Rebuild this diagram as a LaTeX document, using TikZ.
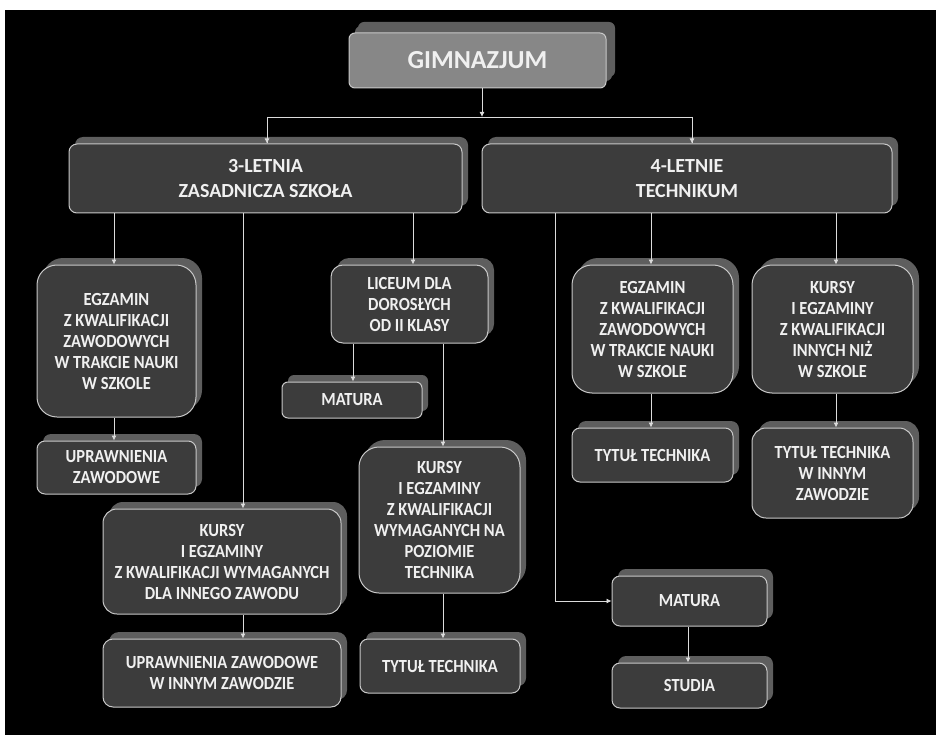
\documentclass[tikz,border=0pt]{standalone}
\usepackage{fontspec}
\setmainfont{Carlito}
\newfontfamily\boxfont[FakeStretch=0.89]{Carlito}
\usetikzlibrary{arrows.meta,shadows}
\definecolor{boxfill}{HTML}{3C3C3C}
\definecolor{topfill}{HTML}{878787}
\definecolor{shadowfill}{HTML}{5E5E5E}
\definecolor{edge}{HTML}{C8C8C8}
\definecolor{linec}{HTML}{DCDCDC}
\definecolor{txt}{HTML}{F0F0F0}
\tikzset{
  box/.style={draw=edge, line width=1pt, fill=boxfill, text=txt, align=center,
    inner sep=0pt, font={\boxfont\bfseries\fontsize{18.5}{21}\selectfont},
    general shadow={fill=shadowfill, shadow xshift=6pt, shadow yshift=7pt}},
  bigbox/.style={box, font={\bfseries\fontsize{20}{25}\selectfont}},
  arr/.style={draw=linec, line width=0.8pt, -{Latex[length=5pt,width=5pt]}},
  ln/.style={draw=linec, line width=0.8pt}
}
\begin{document}
\begin{tikzpicture}[x=1pt,y=-1pt]
\useasboundingbox (0,0) rectangle (936,735);
\fill[white] (0,0) rectangle (936,735);
\fill[black] (5,10) rectangle (936,735);

% top box
\node[box, fill=topfill, rounded corners=6pt, minimum width=257pt, minimum height=55pt,
  font={\bfseries\fontsize{26}{28}\selectfont},
  general shadow={fill=shadowfill, shadow xshift=9pt, shadow yshift=11pt}] (g) at (477.5,60.5) {GIMNAZJUM};

% level 2
\node[bigbox, rounded corners=8pt, minimum width=393pt, minimum height=69pt] (z3) at (265.5,178.5) {3-LETNIA\\ZASADNICZA SZKOŁA};
\node[bigbox, rounded corners=8pt, minimum width=410pt, minimum height=69pt] (t4) at (687,178.5) {4-LETNIE\\TECHNIKUM};

% left branch
\node[box, rounded corners=20pt, minimum width=159pt, minimum height=152pt] (e1) at (116.5,341) {EGZAMIN\\Z KWALIFIKACJI\\ZAWODOWYCH\\W TRAKCIE NAUKI\\W SZKOLE};
\node[box, rounded corners=8pt, minimum width=159pt, minimum height=53pt] (u1) at (116.5,467.5) {UPRAWNIENIA\\ZAWODOWE};
\node[box, rounded corners=12pt, minimum width=157pt, minimum height=78pt] (l1) at (409.5,304) {LICEUM DLA\\DOROSŁYCH\\OD II KLASY};
\node[box, rounded corners=6pt, minimum width=140pt, minimum height=36pt] (m1) at (352,400) {MATURA};
\node[box, rounded corners=14pt, minimum width=238pt, minimum height=105pt] (k1) at (222,561.5) {KURSY\\I EGZAMINY\\Z KWALIFIKACJI WYMAGANYCH\\DLA INNEGO ZAWODU};
\node[box, rounded corners=10pt, minimum width=238pt, minimum height=68pt] (u2) at (222,673) {UPRAWNIENIA ZAWODOWE\\W INNYM ZAWODZIE};
\node[box, rounded corners=20pt, minimum width=161pt, minimum height=146pt] (k2) at (439.5,520) {KURSY\\I EGZAMINY\\Z KWALIFIKACJI\\WYMAGANYCH NA\\POZIOMIE\\TECHNIKA};
\node[box, rounded corners=8pt, minimum width=160pt, minimum height=54pt] (t2) at (440,666) {TYTUŁ TECHNIKA};

% right branch
\node[box, rounded corners=20pt, minimum width=161pt, minimum height=128pt] (e2) at (652.5,329) {EGZAMIN\\Z KWALIFIKACJI\\ZAWODOWYCH\\W TRAKCIE NAUKI\\W SZKOLE};
\node[box, rounded corners=20pt, minimum width=161pt, minimum height=128pt] (k3) at (832.5,329) {KURSY\\I EGZAMINY\\Z KWALIFIKACJI\\INNYCH NIŻ\\W SZKOLE};
\node[box, rounded corners=8pt, minimum width=161pt, minimum height=54pt] (t3) at (652.5,455) {TYTUŁ TECHNIKA};
\node[box, rounded corners=14pt, minimum width=161pt, minimum height=90pt] (t5) at (832.5,473) {TYTUŁ TECHNIKA\\W INNYM\\ZAWODZIE};
\node[box, rounded corners=8pt, minimum width=155pt, minimum height=50pt] (m2) at (689.5,601) {MATURA};
\node[box, rounded corners=8pt, minimum width=155pt, minimum height=45pt] (s1) at (689.5,685.5) {STUDIA};

% connectors
\coordinate (j) at (482,117);
\draw[ln] (j) -| ([xshift=1.5pt]z3.north);
\draw[ln] (j) -| ([xshift=5pt]t4.north);
\draw[arr] (j |- g.south) -- (j);
\draw[arr] (267,117) -- ([xshift=1.5pt]z3.north);
\draw[arr] (692,117) -- ([xshift=5pt]t4.north);

\draw[arr] (z3.south -| 114,0) -- (e1.north -| 114,0);
\draw[arr] (z3.south -| 243,0) -- (k1.north -| 243,0);
\draw[arr] (z3.south -| 413,0) -- (l1.north -| 413,0);
\draw[arr] (e1.south -| 114,0) -- (u1.north -| 114,0);
\draw[arr] (l1.south -| 353,0) -- (m1.north -| 353,0);
\draw[arr] (l1.south -| 443,0) -- (k2.north -| 443,0);
\draw[arr] (k1.south -| 243,0) -- (u2.north -| 243,0);
\draw[arr] (k2.south -| 443,0) -- (t2.north -| 443,0);

\draw[arr] (t4.south -| 555,0) |- (m2.west);
\draw[arr] (t4.south -| 651,0) -- (e2.north -| 651,0);
\draw[arr] (t4.south -| 836,0) -- (k3.north -| 836,0);
\draw[arr] (e2.south -| 651,0) -- (t3.north -| 651,0);
\draw[arr] (k3.south -| 836,0) -- (t5.north -| 836,0);
\draw[arr] (m2.south -| 688,0) -- (s1.north -| 688,0);
\end{tikzpicture}
\end{document}
